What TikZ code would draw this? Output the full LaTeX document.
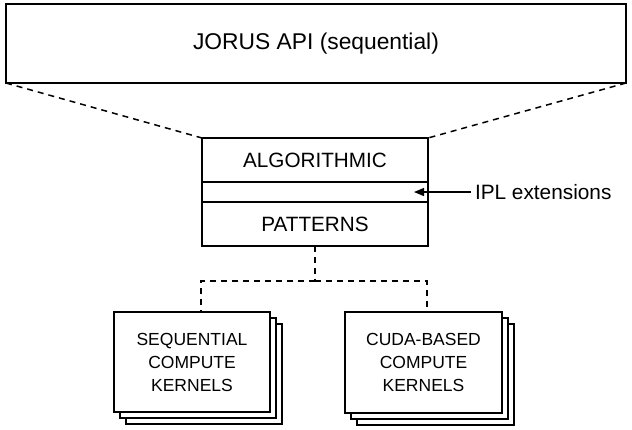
\documentclass[tikz,border=0pt]{standalone}
\usepackage{fontspec}
\setmainfont{Liberation Sans}
\usetikzlibrary{arrows.meta,shadows}

\begin{document}
\begin{tikzpicture}[y=-1pt, x=1pt, inner sep=0pt, outer sep=0pt,
  box/.style={draw=black, line width=1.5pt, fill=white, anchor=north west},
  stackbox/.style={box, align=center, font=\fontsize{17.5}{23}\selectfont,
    double copy shadow={shadow xshift=6pt, shadow yshift=-6pt, draw=black, line width=1.5pt, fill=white}},
  link/.style={draw=black, line width=1.5pt, dash pattern=on 6pt off 5pt},
  pointer/.style={draw=black, line width=1.2pt, -{Triangle[length=10pt,width=8pt]}}]
  \useasboundingbox (0,0) rectangle (632,429);
  % api on top
  \node[box, minimum width=620pt, minimum height=79pt, font=\fontsize{22.8}{26}\selectfont]
    (api) at (6,4) {JORUS API (sequential)};
  % the three layers in the middle
  \node[box, minimum width=226pt, minimum height=44pt, font=\fontsize{20.7}{24}\selectfont]
    (alg) at (202,138) {ALGORITHMIC};
  \node[box, minimum width=226pt, minimum height=20pt] (ipl) at (202,182) {};
  \node[box, minimum width=226pt, minimum height=44pt, font=\fontsize{20.7}{24}\selectfont]
    (pat) at (202,202) {PATTERNS};
  \path[link] (api.south west) -- (alg.north west);
  \path[link] (api.south east) -- (alg.north east);
  \node[anchor=west, font=\fontsize{20.8}{24}\selectfont] (ext) at (475,192) {IPL extensions};
  \path[pointer] ([xshift=-4pt]ext.west) -- ([xshift=-14pt]ipl.east);
  % kernels
  \node[stackbox, minimum width=156pt, minimum height=100pt] (seqk) at (114,312)
    {SEQUENTIAL\\COMPUTE\\KERNELS};
  \node[stackbox, minimum width=157pt, minimum height=101pt] (cuda) at (345,312)
    {CUDA-BASED\\COMPUTE\\KERNELS};
  \coordinate (split) at (315,281);
  \path[link] (pat.south) -- (split);
  \path[link] (split) -| ([xshift=9pt]seqk.north);
  \path[link] (split) -| ([xshift=3.5pt]cuda.north);
\end{tikzpicture}
\end{document}
